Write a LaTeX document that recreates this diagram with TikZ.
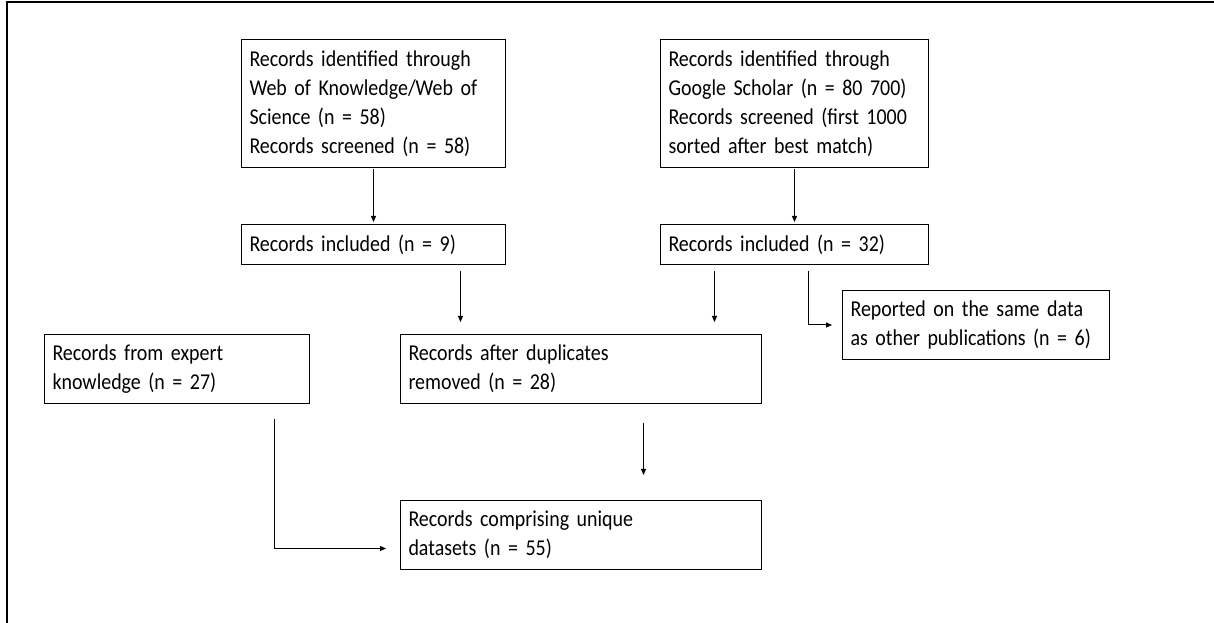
\documentclass[tikz,border=0pt]{standalone}
\usepackage{fontspec}
\setmainfont{Carlito}[FakeStretch=0.88,WordSpace=0.75]
\usetikzlibrary{arrows.meta,calc}
\begin{document}
\begin{tikzpicture}[x=0.75pt,y=-0.75pt,
  box/.style={draw, line width=0.75pt, anchor=north west, inner xsep=6pt, inner ysep=0pt,
    align=left, font=\fontsize{17}{21.75}\selectfont},
  arr/.style={line width=0.75pt, -{Triangle[length=4.5pt,width=3.75pt]}},
  frame/.style={line width=1.5pt}]
\useasboundingbox (0,0) rectangle (1214,623);
\draw[frame] (6.5,623) -- (6.5,2) -- (1214,2);

\node[box, text width=186pt, minimum height=96pt] (A) at (241,39)
  {Records identified through\\Web of Knowledge/Web of\\Science (n = 58)\\Records screened (n = 58)};
\node[box, text width=186pt, minimum height=30pt] (B) at (241,224)
  {Records included (n = 9)};
\node[box, text width=189pt, minimum height=96pt] (C) at (660,39)
  {Records identified through\\Google Scholar (n = 80 700)\\Records screened (first 1000\\sorted after best match)};
\node[box, text width=189pt, minimum height=30pt] (D) at (660,224)
  {Records included (n = 32)};
\node[box, text width=188.25pt, minimum height=51.75pt] (R) at (842,290)
  {Reported on the same data\\as other publications (n = 6)};
\node[box, text width=186.75pt, minimum height=51.75pt] (E) at (44,334)
  {Records from expert\\knowledge (n = 27)};
\node[box, text width=258.75pt, minimum height=51.75pt] (F) at (400,334)
  {Records after duplicates\\removed (n = 28)};
\node[box, text width=258.75pt, minimum height=51.75pt] (G) at (400,500)
  {Records comprising unique\\datasets (n = 55)};

\draw[arr] ($(A.south)+(0,1)$) -- ($(B.north)+(0,-2)$);
\draw[arr] ($(C.south)+(0,1)$) -- ($(D.north)+(0,-2)$);
\draw[arr] ($(B.south)+(87,6)$) -- ($(F.north)+(-120.5,-12)$);
\draw[arr] ($(D.south)+(-80,6)$) -- ($(F.north)+(133.5,-12)$);
\draw[arr] ($(D.south)+(14,6)$) |- ($(R.west)+(-10,0)$);
\draw[arr] ($(F.south)+(62.5,19)$) -- ($(G.north)+(62.5,-25)$);
\draw[arr] ($(E.south)+(97.5,15)$) |- ($(G.west)+(-14,13.5)$);
\end{tikzpicture}
\end{document}
